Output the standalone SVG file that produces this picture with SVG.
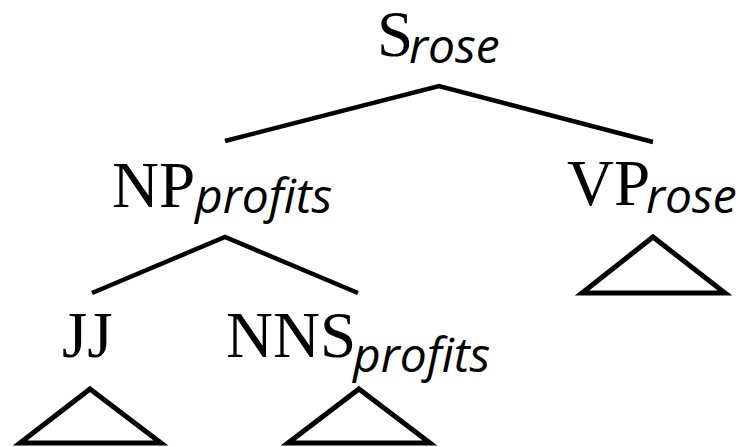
<svg xmlns="http://www.w3.org/2000/svg" width="742" height="447" viewBox="0 0 742 447">
<style>
.lbl{font-family:"Liberation Serif","Times New Roman",serif;font-size:65px;fill:#000}
.sub{font-family:"Open Sans","Noto Sans",sans-serif;font-style:italic;font-size:48px;fill:#000}
.e{stroke:#000;stroke-width:4.5;fill:none;stroke-linecap:butt}
.tri{stroke:#000;stroke-width:5;fill:none;stroke-linejoin:miter}
</style>
<rect width="742" height="447" fill="#fff"/>
<g id="connectors">
<polyline class="e" points="225,141 439,86 653,142"/>
<polyline class="e" points="92,293 225,237 358,293"/>
</g>
<g id="S"><text class="lbl" x="377" y="56">S</text><text class="sub" x="409" y="63">rose</text></g>
<g id="NP"><text class="lbl" x="112" y="207">NP</text><text class="sub" x="195" y="213">profits</text></g>
<g id="VP"><text class="lbl" x="567" y="205">VP</text><text class="sub" x="646" y="213">rose</text></g>
<g id="VPtri"><polygon class="tri" points="653,237 725,293 582,293"/></g>
<g id="JJ"><text class="lbl" x="62" y="357">JJ</text></g>
<g id="JJtri"><polygon class="tri" points="90,389 161,443 20,443"/></g>
<g id="NNS"><text class="lbl" x="226" y="357">NNS</text><text class="sub" x="353" y="372">profits</text></g>
<g id="NNStri"><polygon class="tri" points="359,389 430,443 288,443"/></g>
</svg>
